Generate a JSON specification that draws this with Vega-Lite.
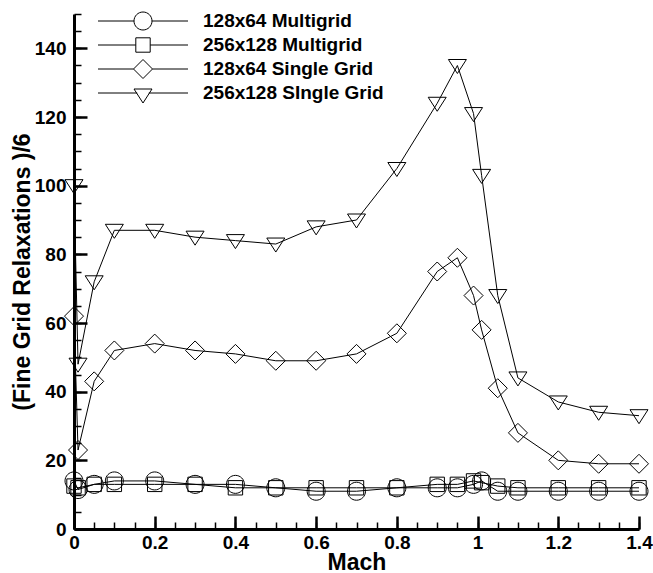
{
  "$schema": "https://vega.github.io/schema/vega-lite/v6.json",
  "autosize": {"type": "none"},
  "padding": {"left": 74, "top": 14, "right": 14, "bottom": 44},
  "width": 565,
  "height": 515,
  "background": "white",
  "config": {
    "view": {"stroke": null},
    "font": "Liberation Sans",
    "axis": {
      "domainColor": "black",
      "tickColor": "black",
      "labelColor": "black",
      "titleColor": "black",
      "labelFont": "Liberation Sans",
      "titleFont": "Liberation Sans",
      "labelFontWeight": "bold",
      "titleFontWeight": "bold",
      "labelFontSize": 19,
      "titleFontSize": 23,
      "grid": false
    }
  },
  "data": {
    "values": [
      {"series": "128x64 Multigrid", "mach": 0, "v": 14},
      {"series": "128x64 Multigrid", "mach": 0.01, "v": 11.5},
      {"series": "128x64 Multigrid", "mach": 0.05, "v": 13},
      {"series": "128x64 Multigrid", "mach": 0.1, "v": 14},
      {"series": "128x64 Multigrid", "mach": 0.2, "v": 14},
      {"series": "128x64 Multigrid", "mach": 0.3, "v": 13},
      {"series": "128x64 Multigrid", "mach": 0.4, "v": 13},
      {"series": "128x64 Multigrid", "mach": 0.5, "v": 12},
      {"series": "128x64 Multigrid", "mach": 0.6, "v": 11},
      {"series": "128x64 Multigrid", "mach": 0.7, "v": 11},
      {"series": "128x64 Multigrid", "mach": 0.8, "v": 12},
      {"series": "128x64 Multigrid", "mach": 0.9, "v": 12},
      {"series": "128x64 Multigrid", "mach": 0.95, "v": 12},
      {"series": "128x64 Multigrid", "mach": 0.99, "v": 13},
      {"series": "128x64 Multigrid", "mach": 1.01, "v": 14},
      {"series": "128x64 Multigrid", "mach": 1.05, "v": 11},
      {"series": "128x64 Multigrid", "mach": 1.1, "v": 11},
      {"series": "128x64 Multigrid", "mach": 1.2, "v": 11},
      {"series": "128x64 Multigrid", "mach": 1.3, "v": 11},
      {"series": "128x64 Multigrid", "mach": 1.4, "v": 11},
      {"series": "256x128 Multigrid", "mach": 0, "v": 12.5},
      {"series": "256x128 Multigrid", "mach": 0.01, "v": 12},
      {"series": "256x128 Multigrid", "mach": 0.05, "v": 13},
      {"series": "256x128 Multigrid", "mach": 0.1, "v": 13},
      {"series": "256x128 Multigrid", "mach": 0.2, "v": 13},
      {"series": "256x128 Multigrid", "mach": 0.3, "v": 13},
      {"series": "256x128 Multigrid", "mach": 0.4, "v": 12},
      {"series": "256x128 Multigrid", "mach": 0.5, "v": 12},
      {"series": "256x128 Multigrid", "mach": 0.6, "v": 12},
      {"series": "256x128 Multigrid", "mach": 0.7, "v": 12},
      {"series": "256x128 Multigrid", "mach": 0.8, "v": 12},
      {"series": "256x128 Multigrid", "mach": 0.9, "v": 13},
      {"series": "256x128 Multigrid", "mach": 0.95, "v": 13},
      {"series": "256x128 Multigrid", "mach": 0.99, "v": 14},
      {"series": "256x128 Multigrid", "mach": 1.01, "v": 13.5},
      {"series": "256x128 Multigrid", "mach": 1.05, "v": 12.5},
      {"series": "256x128 Multigrid", "mach": 1.1, "v": 12},
      {"series": "256x128 Multigrid", "mach": 1.2, "v": 12},
      {"series": "256x128 Multigrid", "mach": 1.3, "v": 12},
      {"series": "256x128 Multigrid", "mach": 1.4, "v": 12},
      {"series": "128x64 Single Grid", "mach": 0, "v": 62},
      {"series": "128x64 Single Grid", "mach": 0.01, "v": 23},
      {"series": "128x64 Single Grid", "mach": 0.05, "v": 43},
      {"series": "128x64 Single Grid", "mach": 0.1, "v": 52},
      {"series": "128x64 Single Grid", "mach": 0.2, "v": 54},
      {"series": "128x64 Single Grid", "mach": 0.3, "v": 52},
      {"series": "128x64 Single Grid", "mach": 0.4, "v": 51},
      {"series": "128x64 Single Grid", "mach": 0.5, "v": 49},
      {"series": "128x64 Single Grid", "mach": 0.6, "v": 49},
      {"series": "128x64 Single Grid", "mach": 0.7, "v": 51},
      {"series": "128x64 Single Grid", "mach": 0.8, "v": 57},
      {"series": "128x64 Single Grid", "mach": 0.9, "v": 75},
      {"series": "128x64 Single Grid", "mach": 0.95, "v": 79},
      {"series": "128x64 Single Grid", "mach": 0.99, "v": 68},
      {"series": "128x64 Single Grid", "mach": 1.01, "v": 58},
      {"series": "128x64 Single Grid", "mach": 1.05, "v": 41},
      {"series": "128x64 Single Grid", "mach": 1.1, "v": 28},
      {"series": "128x64 Single Grid", "mach": 1.2, "v": 20},
      {"series": "128x64 Single Grid", "mach": 1.3, "v": 19},
      {"series": "128x64 Single Grid", "mach": 1.4, "v": 19},
      {"series": "256x128 SIngle Grid", "mach": 0, "v": 100},
      {"series": "256x128 SIngle Grid", "mach": 0.01, "v": 48},
      {"series": "256x128 SIngle Grid", "mach": 0.05, "v": 72},
      {"series": "256x128 SIngle Grid", "mach": 0.1, "v": 87},
      {"series": "256x128 SIngle Grid", "mach": 0.2, "v": 87},
      {"series": "256x128 SIngle Grid", "mach": 0.3, "v": 85},
      {"series": "256x128 SIngle Grid", "mach": 0.4, "v": 84},
      {"series": "256x128 SIngle Grid", "mach": 0.5, "v": 83},
      {"series": "256x128 SIngle Grid", "mach": 0.6, "v": 88},
      {"series": "256x128 SIngle Grid", "mach": 0.7, "v": 90},
      {"series": "256x128 SIngle Grid", "mach": 0.8, "v": 105},
      {"series": "256x128 SIngle Grid", "mach": 0.9, "v": 124},
      {"series": "256x128 SIngle Grid", "mach": 0.95, "v": 135},
      {"series": "256x128 SIngle Grid", "mach": 0.99, "v": 121},
      {"series": "256x128 SIngle Grid", "mach": 1.01, "v": 103},
      {"series": "256x128 SIngle Grid", "mach": 1.05, "v": 68},
      {"series": "256x128 SIngle Grid", "mach": 1.1, "v": 44},
      {"series": "256x128 SIngle Grid", "mach": 1.2, "v": 37},
      {"series": "256x128 SIngle Grid", "mach": 1.3, "v": 34},
      {"series": "256x128 SIngle Grid", "mach": 1.4, "v": 33}
    ]
  },
  "resolve": {
    "axis": {"x": "independent", "y": "independent"},
    "scale": {"shape": "independent"}
  },
  "layer": [
    {
      "mark": {"type": "line", "stroke": "black", "strokeWidth": 1},
      "encoding": {
        "x": {
          "field": "mach", "type": "quantitative",
          "scale": {"domain": [0, 1.4], "nice": false, "zero": false},
          "axis": {
            "orient": "bottom",
            "values": [0, 0.2, 0.4, 0.6, 0.8, 1, 1.2, 1.4],
            "format": "~g",
            "domainWidth": 3,
            "tickSize": -13,
            "tickWidth": 2.5,
            "labelPadding": 17,
            "labelFlush": false,
            "labelOverlap": false,
            "title": "Mach",
            "titleX": 282.5,
            "titleY": 40,
            "titleBaseline": "alphabetic"
          }
        },
        "y": {
          "field": "v", "type": "quantitative",
          "scale": {"domain": [0, 150], "nice": false, "zero": false},
          "axis": {
            "orient": "left",
            "values": [0, 20, 40, 60, 80, 100, 120, 140],
            "domainWidth": 3,
            "tickSize": -13,
            "tickWidth": 2.5,
            "labelPadding": 21,
            "labelFlush": false,
            "labelOverlap": false,
            "title": "(Fine Grid Relaxations )/6",
            "titleX": -52,
            "titleY": 257.5,
            "titleBaseline": "middle",
            "titleAngle": -90
          }
        },
        "detail": {"field": "series", "type": "nominal"}
      }
    },
    {
      "mark": {"type": "point", "filled": false, "stroke": "black", "strokeWidth": 1, "size": 400, "opacity": 1},
      "encoding": {
        "x": {
          "field": "mach", "type": "quantitative",
          "axis": {
            "orient": "bottom",
            "values": [0, 0.05, 0.1, 0.15, 0.2, 0.25, 0.3, 0.35, 0.4, 0.45, 0.5, 0.55, 0.6, 0.65, 0.7, 0.75, 0.8, 0.85, 0.9, 0.95, 1, 1.05, 1.1, 1.15, 1.2, 1.25, 1.3, 1.35, 1.4],
            "labels": false,
            "domain": false,
            "tickSize": -7,
            "tickWidth": 1.5,
            "title": null
          }
        },
        "y": {
          "field": "v", "type": "quantitative",
          "axis": {
            "orient": "left",
            "values": [0, 5, 10, 15, 20, 25, 30, 35, 40, 45, 50, 55, 60, 65, 70, 75, 80, 85, 90, 95, 100, 105, 110, 115, 120, 125, 130, 135, 140, 145, 150],
            "labels": false,
            "domain": false,
            "tickSize": -7,
            "tickWidth": 1.5,
            "title": null
          }
        },
        "shape": {
          "field": "series", "type": "nominal",
          "scale": {
            "domain": ["128x64 Multigrid", "256x128 Multigrid", "128x64 Single Grid", "256x128 SIngle Grid"],
            "range": [
              "M-0.9,0A0.9,0.9,0,1,0,0.9,0A0.9,0.9,0,1,0,-0.9,0Z",
              "M-0.72,-0.72L0.72,-0.72L0.72,0.72L-0.72,0.72Z",
              "M0,-0.95L0.95,0L0,0.95L-0.95,0Z",
              "M-0.9,-0.6L0.9,-0.6L0,0.8Z"
            ]
          },
          "legend": null
        }
      }
    },
    {
      "transform": [{"filter": "datum.mach > 2"}],
      "mark": {"type": "point", "filled": false, "stroke": "black", "strokeWidth": 1, "size": 400, "opacity": 1},
      "encoding": {
        "x": {"field": "mach", "type": "quantitative", "axis": null},
        "y": {"field": "v", "type": "quantitative", "axis": null},
        "shape": {
          "field": "series", "type": "nominal",
          "scale": {
            "domain": ["128x64 Multigrid", "256x128 Multigrid", "128x64 Single Grid", "256x128 SIngle Grid"],
            "range": [
              "M-4.5,0L-0.9,0M0.9,0L4.5,0M-0.9,0A0.9,0.9,0,1,0,0.9,0A0.9,0.9,0,1,0,-0.9,0",
              "M-4.5,0L-0.72,0M0.72,0L4.5,0M-0.72,-0.72L0.72,-0.72L0.72,0.72L-0.72,0.72Z",
              "M-4.5,0L-0.95,0M0.95,0L4.5,0M0,-0.95L0.95,0L0,0.95L-0.95,0Z",
              "M-4.5,0L-0.58,0M0.58,0L4.5,0M-0.9,-0.4L0.9,-0.4L0,1Z"
            ]
          },
          "legend": {
            "title": null,
            "orient": "none",
            "legendX": 58.5,
            "legendY": -3.5,
            "padding": 0,
            "rowPadding": 2,
            "symbolSize": 400,
            "symbolStrokeWidth": 1,
            "symbolStrokeColor": "black",
            "symbolLimit": 10,
            "labelOffset": 49.5,
            "labelFont": "Liberation Sans",
            "labelFontWeight": "bold",
            "labelFontSize": 19,
            "labelColor": "black",
            "labelLimit": 400
          }
        }
      }
    }
  ]
}
